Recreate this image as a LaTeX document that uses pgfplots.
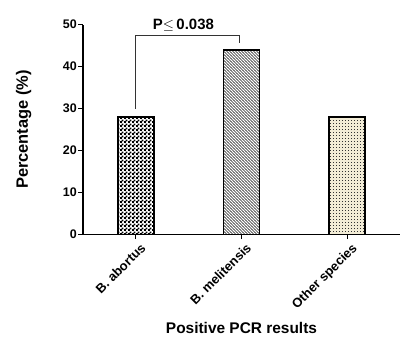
\documentclass[border=0pt]{standalone}
\usepackage{pgfplots}
\pgfplotsset{compat=1.18}
\usepackage{fontspec}
\setmainfont{Liberation Sans}
\usetikzlibrary{patterns}
\pgfdeclarepatternformonly{finecheck}{\pgfpointorigin}{\pgfqpoint{4bp}{4bp}}{\pgfqpoint{4bp}{4bp}}{%
  \pgfpathrectangle{\pgfpointorigin}{\pgfqpoint{2.2bp}{2.2bp}}%
  \pgfpathrectangle{\pgfqpoint{2bp}{2bp}}{\pgfqpoint{2.2bp}{2.2bp}}%
  \pgfusepath{fill}}
\pgfdeclarepatternformonly{nwfine}{\pgfqpoint{-1bp}{-1bp}}{\pgfqpoint{4bp}{4bp}}{\pgfqpoint{3bp}{3bp}}{%
  \pgfsetlinewidth{0.6bp}%
  \pgfpathmoveto{\pgfqpoint{-0.2bp}{3.2bp}}%
  \pgfpathlineto{\pgfqpoint{3.2bp}{-0.2bp}}%
  \pgfusepath{stroke}}
\pgfdeclarepatternformonly{finedots}{\pgfqpoint{-1bp}{-1bp}}{\pgfqpoint{2bp}{2bp}}{\pgfqpoint{3bp}{3bp}}{%
  \pgfpathrectangle{\pgfqpoint{0bp}{0bp}}{\pgfqpoint{1bp}{1bp}}%
  \pgfusepath{fill}}
\definecolor{beige}{HTML}{F2ECD6}
\begin{document}
\begin{tikzpicture}
\useasboundingbox (-83bp,-112bp) rectangle (325bp,234.5bp);
\begin{axis}[
  scale only axis,
  width=317bp, height=210bp,
  xmin=-0.5, xmax=2.5,
  ymin=0, ymax=50,
  axis x line*=bottom, axis y line*=left,
  axis line style={line width=1.5bp, -},
  xtick={0,1,2},
  xticklabels={B. abortus, B. melitensis, Other species},
  ytick={0,10,20,30,40,50},
  tick style={line width=1.3bp, black},
  major tick length=4.5bp,
  tick align=outside,
  x tick label style={rotate=45, anchor=north east, font=\bfseries\fontsize{13}{15}\selectfont, inner sep=1bp, xshift=1.5bp, yshift=-4bp},
  y tick label style={font=\bfseries\fontsize{12.5}{14}\selectfont, inner sep=1.5bp},
  /pgf/number format/assume math mode=true,
  ylabel={Percentage (\%)},
  xlabel={Positive PCR results},
  ylabel style={font=\bfseries\fontsize{16.5}{18}\selectfont, at={(axis description cs:0,0.5)}, anchor=south, yshift=48bp},
  xlabel style={font=\bfseries\fontsize{15.5}{18}\selectfont, at={(axis description cs:0.5,0)}, anchor=base, yshift=-99bp},
  clip=false,
]
\addplot[ybar, bar width=36bp, draw=black, line width=1.8bp, fill=white,
  postaction={pattern=finecheck, pattern color=black}]
  coordinates {(0,28)};
\addplot[ybar, bar width=36bp, draw=black, line width=1.8bp, fill=white,
  postaction={pattern=nwfine, pattern color=black!85}]
  coordinates {(1,44)};
\addplot[ybar, bar width=36bp, draw=black, line width=1.8bp, fill=beige,
  postaction={pattern=finedots, pattern color=black!80}]
  coordinates {(2,28)};
\draw[line width=0.8bp, black!80] (axis cs:0,30) -- (axis cs:0,47.5) -- (axis cs:0.98,47.5) -- (axis cs:0.98,45.6);
\node[font=\bfseries\fontsize{15}{17}\selectfont, anchor=base] at (axis cs:0.45,48.9) {P$\leq$\,0.038};
\end{axis}
\end{tikzpicture}
\end{document}
